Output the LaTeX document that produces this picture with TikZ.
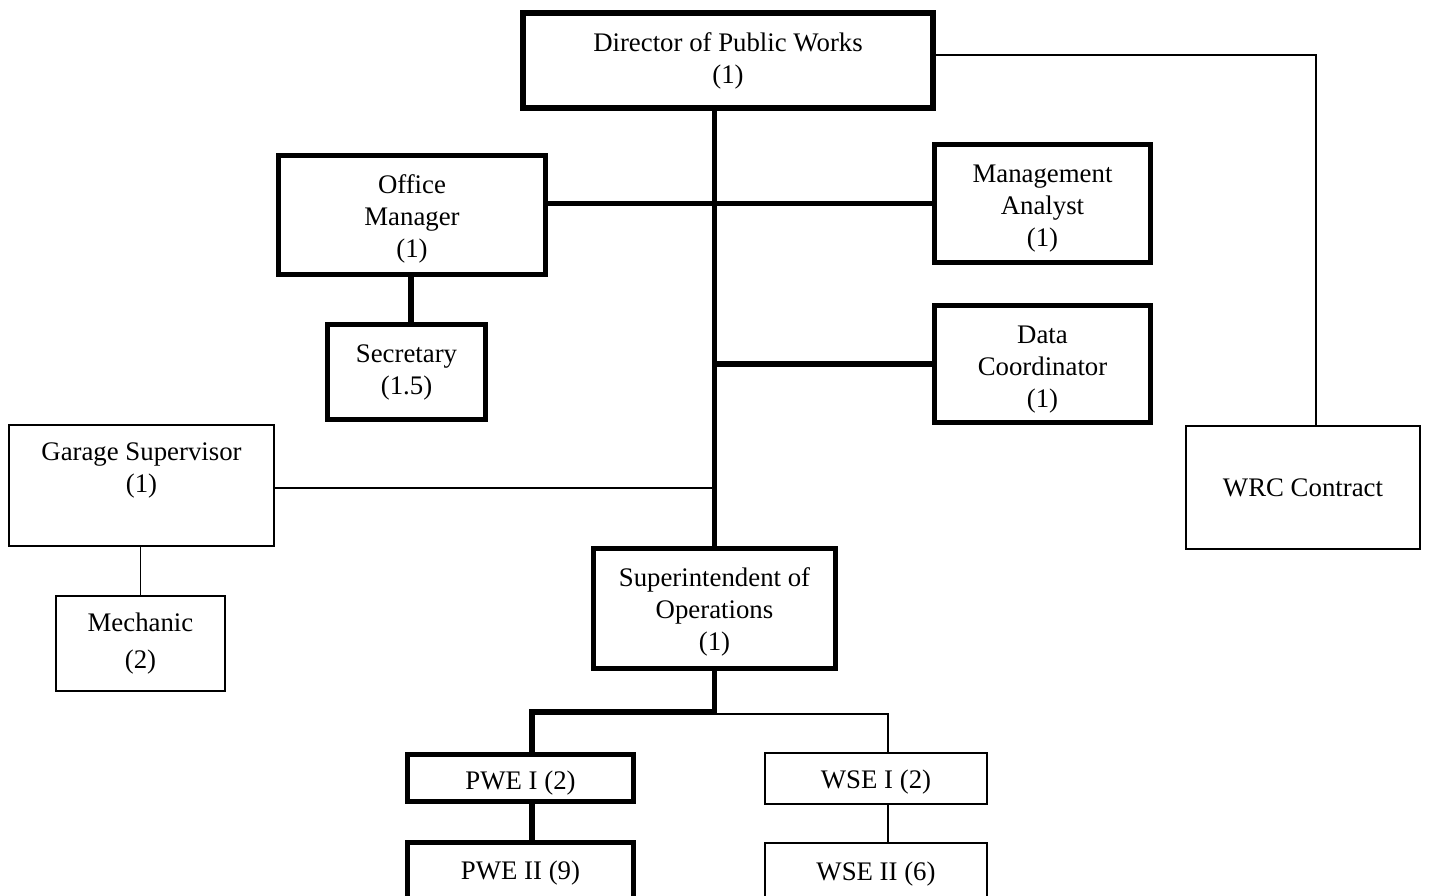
\documentclass[tikz,border=0pt]{standalone}
\usepackage{fontspec}
\setmainfont{Liberation Serif}
\usetikzlibrary{calc}
% strut that lowers a node's text block by half of the extra height
\newcommand{\dropby}[1]{\rule{0pt}{\dimexpr 9.3pt+2\dimexpr #1\relax\relax}}
\begin{document}
\begin{tikzpicture}[x=0.5pt,y=-0.5pt,
  heavy/.style={line width=2.6pt},
  light/.style={line width=0.9pt},
  box/.style={draw,rectangle,inner sep=0pt,align=center,
    font=\fontsize{13.4}{16}\selectfont},
  heavybox/.style={box,heavy},
  lightbox/.style={box,light}]
\fill[white] (0,0) rectangle (1430,895);
\useasboundingbox (0,0) rectangle (1430,895);

% positions
\node[heavybox,minimum width=205pt,minimum height=47.5pt] (dir) at (728,60.5) {Director of Public Works\\(1)};
\node[heavybox,minimum width=133.5pt,minimum height=59.5pt] (om) at (412,215) {\dropby{2pt}Office\\Manager\\(1)};
\node[heavybox,minimum width=108pt,minimum height=59pt] (ma) at (1042.5,203.5) {\dropby{2.3pt}Management\\Analyst\\(1)};
\node[heavybox,minimum width=79pt,minimum height=47.5pt] (sec) at (406.5,372) {Secretary\\(1.5)};
\node[heavybox,minimum width=108pt,minimum height=58.5pt] (dc) at (1042.5,364) {\dropby{2.6pt}Data\\Coordinator\\(1)};
\node[lightbox,minimum width=132.5pt,minimum height=60.5pt] (gs) at (141.5,485.5) {Garage Supervisor\\(1)\\[2pt]\mbox{}};
\node[lightbox,minimum width=117pt,minimum height=61.5pt] (wrc) at (1303,487.5) {WRC Contract};
\node[lightbox,minimum width=84.5pt,minimum height=47.5pt] (mech) at (140.5,643.5) {Mechanic\\[2.5pt](2)};
\node[heavybox,minimum width=121pt,minimum height=60pt] (sup) at (714.5,608.5) {\dropby{2pt}Superintendent of\\Operations\\(1)};
\node[heavybox,minimum width=113pt,minimum height=23.5pt] (pwe1) at (520.5,778) {\dropby{2.3pt}PWE I (2)};
\node[lightbox,minimum width=111pt,minimum height=25.5pt] (wse1) at (876,778.5) {\dropby{2pt}WSE I (2)};
\node[heavybox,minimum width=113pt,minimum height=30pt] (pwe2) at (520.5,872.5) {\dropby{0.5pt}PWE II (9)};
\node[lightbox,minimum width=111pt,minimum height=30pt] (wse2) at (876,873) {\dropby{0.5pt}WSE II (6)};

\coordinate (wrcTop) at (1316,55);
\coordinate (split) at (714.5,712);
\coordinate (secLine) at ($(sec.north)+(4.5,0)$);
\coordinate (gsLine) at ($(gs.east)+(0,2.5)$);
\coordinate (pweLine) at ($(pwe1.north)+(11.5,0)$);
\coordinate (wseLine) at ($(wse1.north)+(12,0)$);

% connectors
\draw[heavy] (sup.north |- dir.south) -- (sup.north);
\draw[heavy] (om.east |- ma.west) -- (ma.west);
\draw[heavy] (om.south -| secLine) -- (secLine);
\draw[heavy] (dc.west -| sup.north) -- (dc.west);
\draw[light] (gsLine) -- (gsLine -| sup.north);
\draw[light] (gs.south -| mech.north) -- (mech.north);
\draw[light] (dir.east |- wrcTop) -- (wrcTop) -- (wrcTop |- wrc.north);
\draw[heavy] (sup.south) -- (split) -| (pweLine);
\draw[light] ([yshift=-1pt]split) -| (wseLine);
\draw[heavy] (pweLine |- pwe1.south) -- (pweLine |- pwe2.north);
\draw[light] (wseLine |- wse1.south) -- (wseLine |- wse2.north);
\end{tikzpicture}
\end{document}
